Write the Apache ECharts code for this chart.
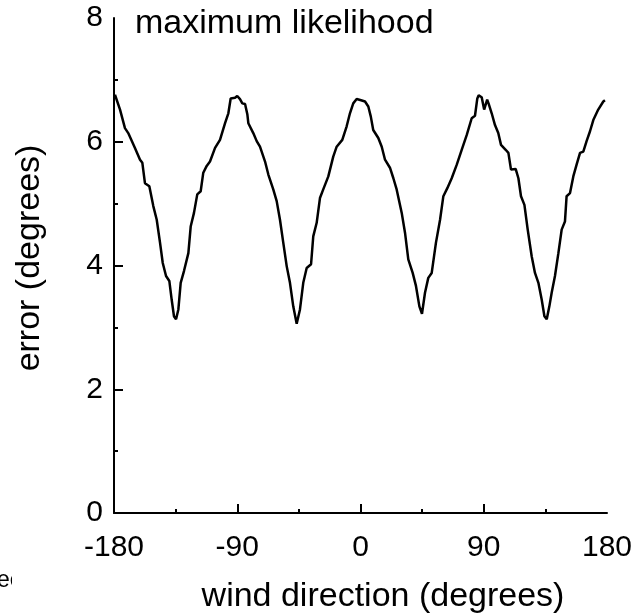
<!DOCTYPE html>
<html>
<head>
<meta charset="utf-8">
<script src="https://cdn.jsdelivr.net/npm/echarts@6/dist/echarts.min.js"></script>
<style>html,body{margin:0;padding:0;background:#fff;}#c{width:636px;height:614px;}</style>
</head>
<body>
<div id="c"></div>
<script>
var windDirection = [-179.3,-178.1,-175.6,-172,-169.6,-164.7,-161,-159.3,-157.4,-154.2,-151.3,-148.8,-146.4,-144.4,-142,-139.6,-137.9,-136.2,-134.7,-133,-131.3,-128.9,-125.7,-124,-121.6,-119.2,-116.7,-114.8,-112.3,-109.9,-106.2,-102.6,-98.9,-96.5,-94.8,-93.6,-91.6,-90,-88,-86.3,-84.3,-82.6,-81.9,-78.3,-75.8,-73.4,-69.7,-67.3,-63.7,-61.2,-58.8,-56.4,-53.9,-51.5,-49.1,-46.6,-44.2,-41.8,-39.3,-36.1,-34.5,-32,-29.6,-27.2,-23.5,-19.9,-17.4,-13.3,-10.1,-7.7,-5.3,-2.8,0.4,3.3,5.7,7.5,9.3,13,15.5,17.9,21.5,24,26.4,30.1,32.5,34.9,38.1,40.5,43,44.9,47.1,49.5,52,55.1,58.1,60.5,63.4,66.6,70.3,73.9,77.6,81.2,83.6,85.3,86.3,88.5,90.3,92.5,93.5,95.8,98.2,100.6,102.6,106,108,109.9,113.3,115.3,117.2,119.7,122.1,125,127.4,129.9,132.3,134.3,136,137.9,139.6,142,144.5,146.9,149.3,150.5,153,155.4,157.8,160.3,162.7,165.1,167.6,170,173.6,177.3,178.5];
var errorValues = [6.76,6.77,6.52,6.22,6.14,5.90,5.71,5.66,5.33,5.28,4.96,4.74,4.37,4.04,3.83,3.75,3.45,3.18,3.13,3.29,3.72,3.91,4.20,4.63,4.85,5.15,5.20,5.50,5.61,5.68,5.90,6.03,6.30,6.46,6.70,6.73,6.71,6.74,6.69,6.62,6.61,6.44,6.30,6.14,6.01,5.92,5.68,5.47,5.23,5.04,4.74,4.37,3.99,3.72,3.34,3.06,3.29,3.72,3.96,4.02,4.47,4.69,5.09,5.23,5.44,5.76,5.92,6.03,6.25,6.46,6.62,6.69,6.67,6.65,6.57,6.41,6.19,6.06,5.92,5.71,5.58,5.41,5.23,4.85,4.53,4.10,3.88,3.67,3.34,3.22,3.56,3.80,3.88,4.37,4.74,5.12,5.25,5.41,5.63,5.87,6.11,6.38,6.42,6.70,6.75,6.72,6.52,6.68,6.62,6.46,6.27,6.14,5.95,5.87,5.82,5.55,5.56,5.41,5.12,4.98,4.58,4.15,3.88,3.72,3.45,3.18,3.13,3.34,3.56,3.83,4.20,4.58,4.71,5.12,5.17,5.44,5.63,5.82,5.84,6.01,6.17,6.35,6.52,6.65,6.67];
var xTicks = [-180, 180, 90];
var xMajorTickValues = [-180, -90, 0, 90];
var yTicks = [0, 8, 2];
var yMajorTickValues = [0, 2, 4, 6];
var chartTitle = 'maximum likelihood';
var xName = 'wind direction (degrees)';
var yName = 'error (degrees)';
var fragmentText = 'ec';

var FONT = "'Liberation Sans', Arial, Helvetica, sans-serif";
var points = windDirection.map(function (d, i) { return [d, errorValues[i]]; });

function axisCommon(tickValues) {
  return {
    axisLine: { show: true, onZero: false, lineStyle: { color: '#000', width: 2 } },
    axisTick: { show: true, inside: true, length: 9, customValues: tickValues, lineStyle: { color: '#000', width: 2 } },
    minorTick: { show: true, splitNumber: 2, length: 4, lineStyle: { color: '#000', width: 2 } },
    splitLine: { show: false },
    minorSplitLine: { show: false }
  };
}

var chart = echarts.init(document.getElementById('c'), null, { renderer: 'canvas' });
chart.setOption({
  animation: false,
  backgroundColor: '#fff',
  grid: { left: 114, right: 29, top: 18, bottom: 101, containLabel: false },
  xAxis: Object.assign({
    type: 'value', min: xTicks[0], max: xTicks[1], interval: xTicks[2],
    axisLabel: { color: '#000', fontSize: 30, fontFamily: FONT, margin: 20 }
  }, axisCommon(xMajorTickValues)),
  yAxis: Object.assign({
    type: 'value', min: yTicks[0], max: yTicks[1], interval: yTicks[2],
    axisLabel: { color: '#000', fontSize: 30, fontFamily: FONT, margin: 11 }
  }, axisCommon(yMajorTickValues)),
  series: [{
    type: 'line', data: points, showSymbol: false, symbol: 'none',
    lineStyle: { color: '#000', width: 2.5 }, z: 3
  }],
  graphic: [
    { type: 'text', x: 135, y: 24, style: { text: chartTitle, font: '34px ' + FONT, fill: '#000', textAlign: 'left', textVerticalAlign: 'middle' } },
    { type: 'text', x: 383, y: 597, style: { text: xName, font: '34px ' + FONT, fill: '#000', textAlign: 'center', textVerticalAlign: 'middle' } },
    { type: 'text', x: 30, y: 258, rotation: Math.PI / 2, style: { text: yName, font: '34px ' + FONT, fill: '#000', textAlign: 'center', textVerticalAlign: 'middle' } },
    { type: 'text', x: -3, y: 581, style: { text: fragmentText, font: '23px ' + FONT, fill: '#000', textAlign: 'left', textVerticalAlign: 'middle' } },
    { type: 'rect', shape: { x: 12, y: 566, width: 30, height: 28 }, style: { fill: '#fff' }, z: 10 }
  ]
});
</script>
</body>
</html>
